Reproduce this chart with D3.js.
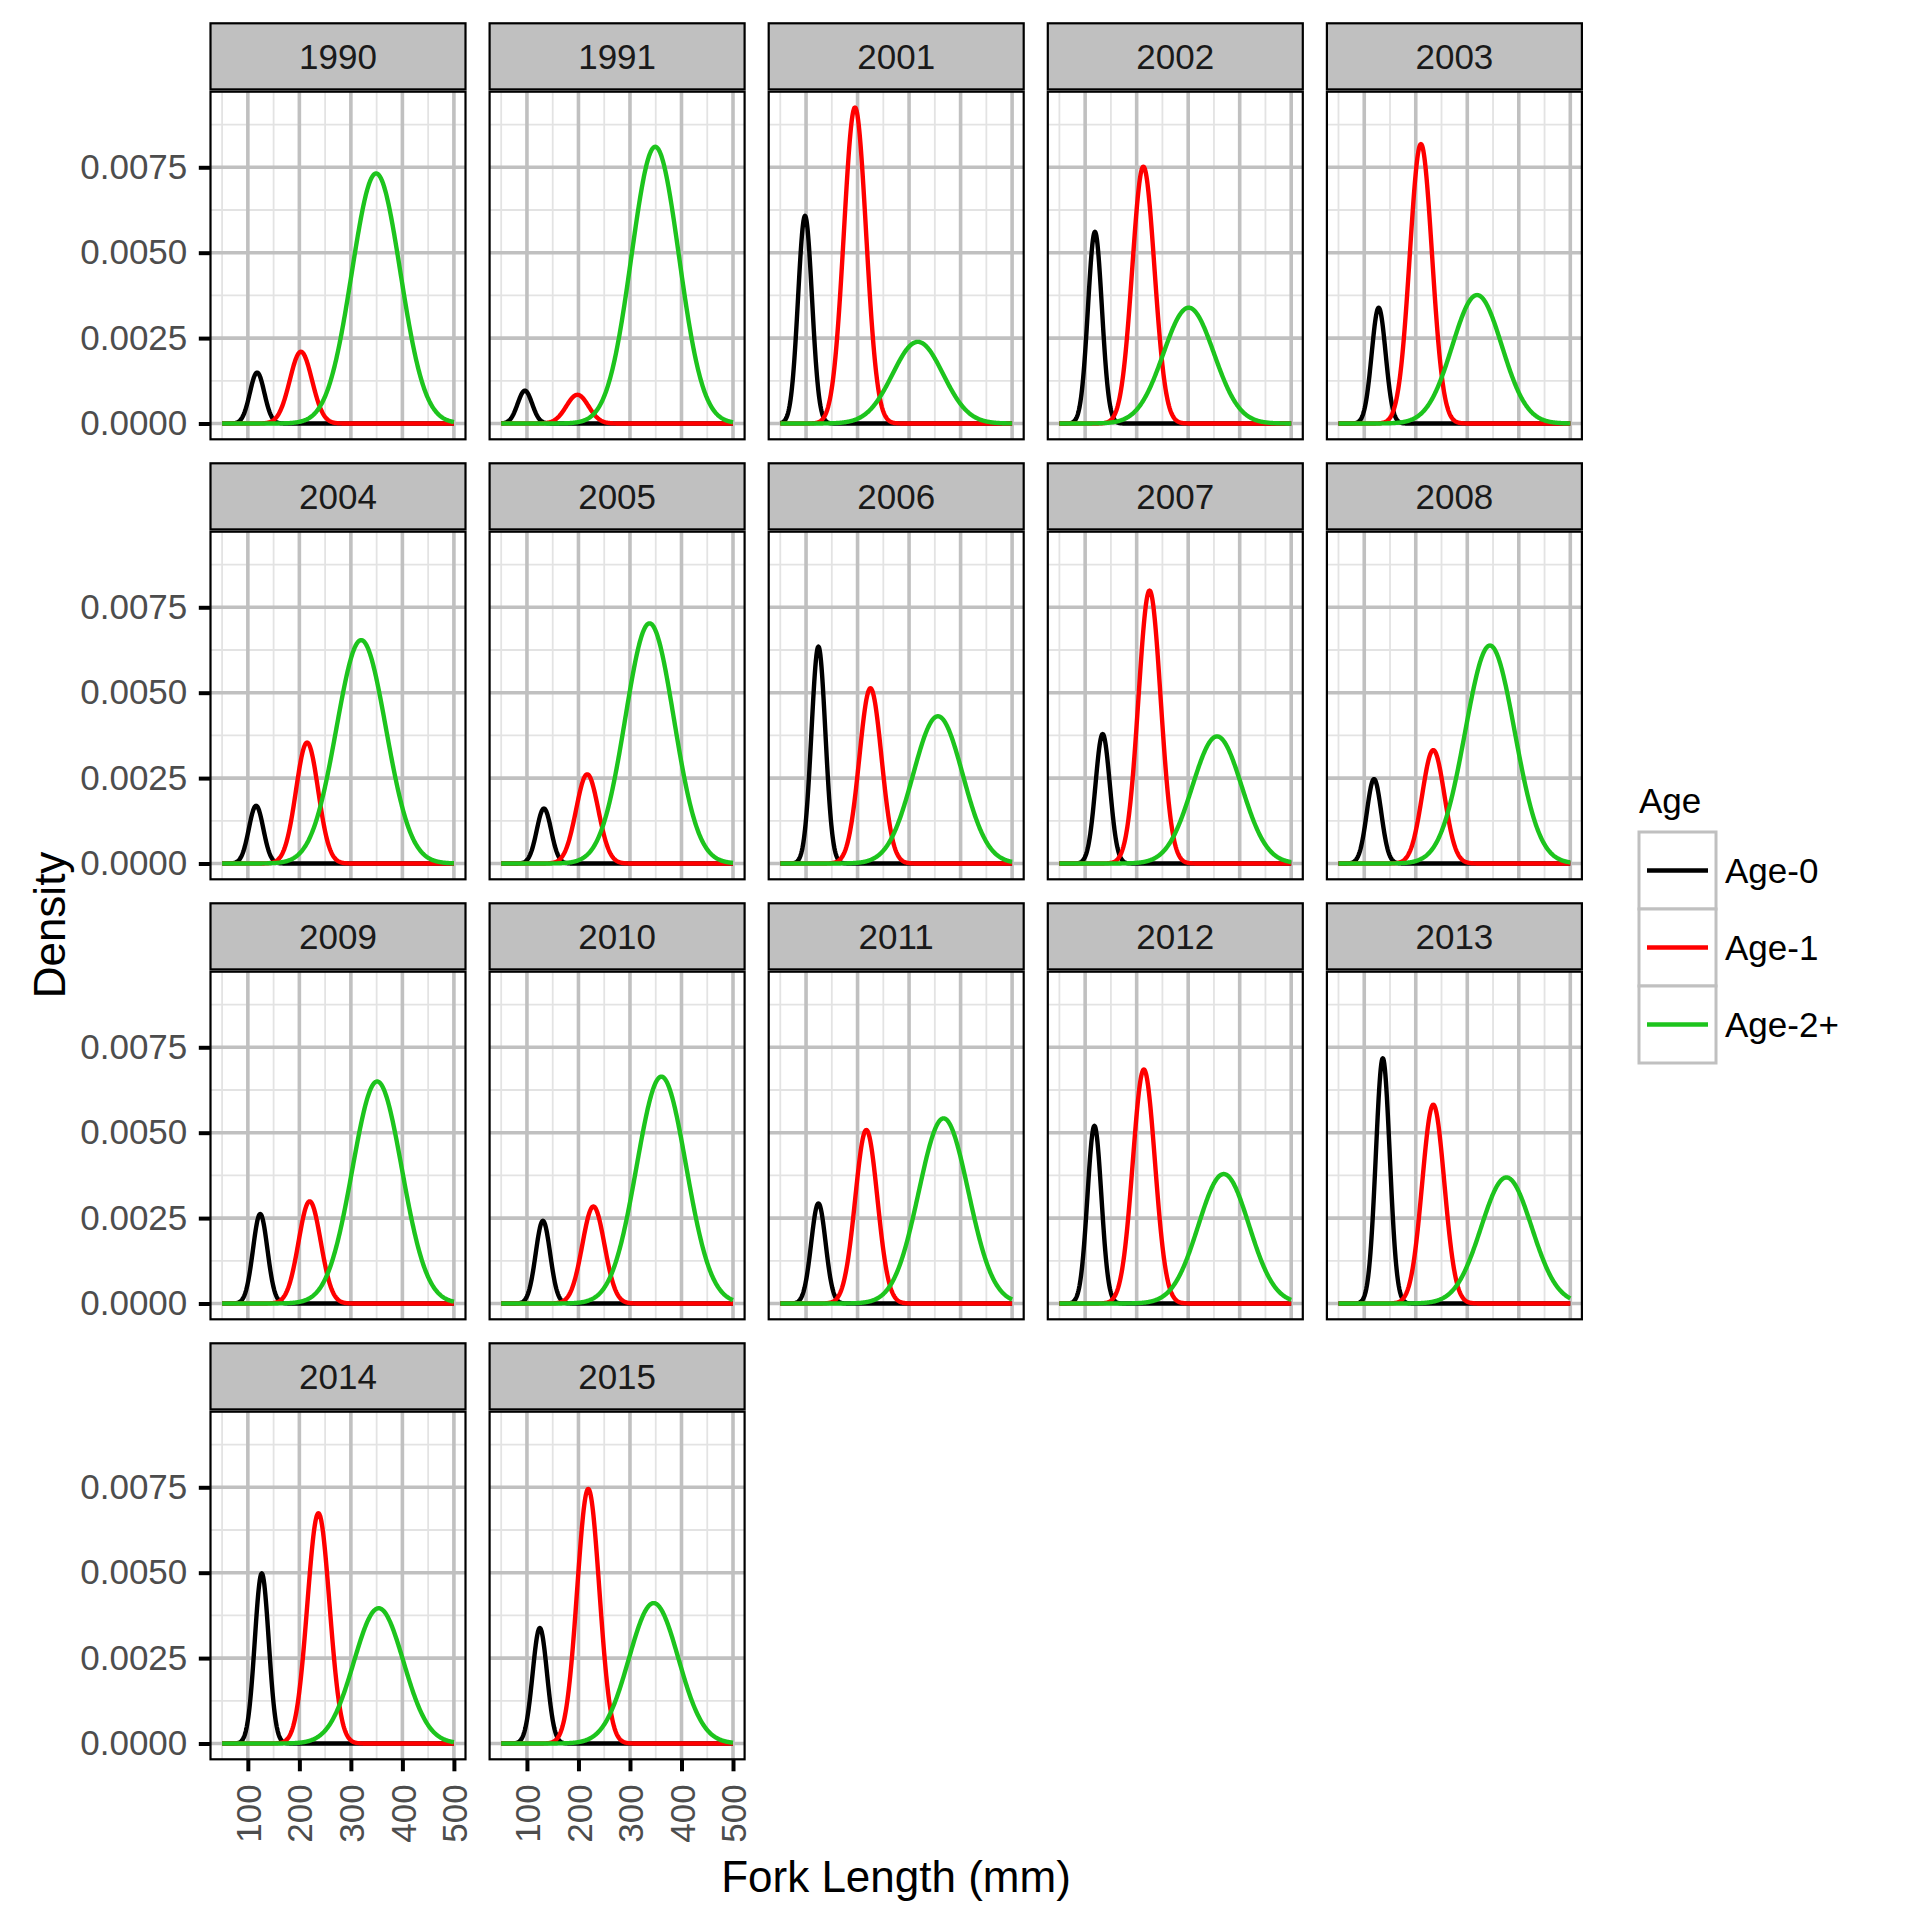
<!DOCTYPE html>
<html><head><meta charset="utf-8">
<script src="https://cdn.jsdelivr.net/npm/d3@7"></script>
<style>body{margin:0;background:#fff}</style>
</head><body>
<svg id="chart" width="1920" height="1920"></svg>
<script>
// ---- data ----
const years = ["1990","1991","2001","2002","2003","2004","2005","2006","2007","2008","2009","2010","2011","2012","2013","2014","2015"];
const ages = ["Age-0","Age-1","Age-2+"];
const ageColors = ["#000000","#FF0000","#1DC41D"];
// component means (mm), standard deviations (mm), and peak densities per year
const age0Mean = [118, 96, 98, 119, 128, 116, 133, 124, 134, 119, 124, 131, 124, 118, 136, 127, 125];
const age0Sd   = [14, 14, 13.5, 13.5, 13.5, 14, 14, 13.5, 14, 14, 14, 14, 14, 13.5, 13.5, 13.5, 14];
const age0Peak = [0.00149, 0.00096, 0.00608, 0.00561, 0.00339, 0.00169, 0.00161, 0.00635, 0.00379, 0.00247, 0.00262, 0.00242, 0.00293, 0.00520, 0.00718, 0.00498, 0.00338];
const age1Mean = [203, 198, 195, 213, 210, 215, 217, 225, 225, 234, 220, 229, 217, 214, 234, 237, 219];
const age1Sd   = [21.5, 21.5, 21.5, 21.5, 21.5, 21.5, 21.5, 21.5, 21.5, 21.5, 21.5, 21.5, 21.5, 21.5, 21.5, 21.5, 21.5];
const age1Peak = [0.00210, 0.00084, 0.00925, 0.00752, 0.00818, 0.00354, 0.00261, 0.00513, 0.00799, 0.00332, 0.00299, 0.00284, 0.00508, 0.00685, 0.00582, 0.00674, 0.00745];
const age2Mean = [349, 349, 317, 301, 319, 320, 338, 356, 356, 344, 351, 361, 367, 369, 376, 354, 346];
const age2Sd   = [47, 46, 49, 49, 48, 48, 47, 48, 48, 48, 48, 48, 48, 49, 49, 48, 48];
const age2Peak = [0.00732, 0.00810, 0.00239, 0.00339, 0.00376, 0.00654, 0.00703, 0.00431, 0.00372, 0.00638, 0.00650, 0.00664, 0.00542, 0.00379, 0.00369, 0.00396, 0.00411];
const xTicks = [100, 200, 300, 400, 500];
const xMinor = [50, 150, 250, 350, 450];
const yTicks = [0, 0.0025, 0.005, 0.0075];
const yMinor = [0.00125, 0.00375, 0.00625, 0.00875];
const xRange = [50, 500];

// ---- layout ----
const font = "'Liberation Sans', Arial, Helvetica, sans-serif";
const nCol = 5, colX0 = 210.5, colPitch = 279.1, panelW = 255;
const rowY0 = 23.3, rowPitch = 440, stripH = 68.4, panelH = 347.6;

const params = [
  {mean: age0Mean, sd: age0Sd, peak: age0Peak},
  {mean: age1Mean, sd: age1Sd, peak: age1Peak},
  {mean: age2Mean, sd: age2Sd, peak: age2Peak}
];
const grid = d3.range(xRange[0], xRange[1] + 0.5, 1);
function curve(p, i) {
  return grid.map(x => ({x, y: p.peak[i] * Math.exp(-0.5 * Math.pow((x - p.mean[i]) / p.sd[i], 2))}));
}
const curves = years.map((yr, i) => params.map(p => curve(p, i)));
const maxY = d3.max(curves.flat(2), d => d.y);

const xSpan = xRange[1] - xRange[0];
const x = d3.scaleLinear().domain([xRange[0] - 0.05 * xSpan, xRange[1] + 0.05 * xSpan]).range([0, panelW]);
const y = d3.scaleLinear().domain([-0.05 * maxY, 1.05 * maxY]).range([panelH, 0]);
const line = d3.line().x(d => x(d.x)).y(d => y(d.y));

const svg = d3.select("#chart");
svg.append("rect").attr("width", 1920).attr("height", 1920).attr("fill", "#fff");

years.forEach((yr, i) => {
  const col = i % nCol, row = Math.floor(i / nCol);
  const g = svg.append("g").attr("transform", `translate(${colX0 + col * colPitch},${rowY0 + row * rowPitch + stripH})`);
  g.append("rect").attr("width", panelW).attr("height", panelH).attr("fill", "#fff");
  // minor grid
  g.selectAll(".mx").data(xMinor).join("line")
    .attr("x1", d => x(d)).attr("x2", d => x(d)).attr("y1", 0).attr("y2", panelH)
    .attr("stroke", "#E3E3E3").attr("stroke-width", 1.8);
  g.selectAll(".my").data(yMinor).join("line")
    .attr("x1", 0).attr("x2", panelW).attr("y1", d => y(d)).attr("y2", d => y(d))
    .attr("stroke", "#E3E3E3").attr("stroke-width", 1.8);
  // major grid
  g.selectAll(".Mx").data(xTicks).join("line")
    .attr("x1", d => x(d)).attr("x2", d => x(d)).attr("y1", 0).attr("y2", panelH)
    .attr("stroke", "#C0C0C0").attr("stroke-width", 3.6);
  g.selectAll(".My").data(yTicks).join("line")
    .attr("x1", 0).attr("x2", panelW).attr("y1", d => y(d)).attr("y2", d => y(d))
    .attr("stroke", "#C0C0C0").attr("stroke-width", 3.6);
  // curves
  curves[i].forEach((c, k) => {
    g.append("path").attr("d", line(c)).attr("fill", "none")
      .attr("stroke", ageColors[k]).attr("stroke-width", 4.4).attr("stroke-linejoin", "round");
  });
  // border
  g.append("rect").attr("width", panelW).attr("height", panelH)
    .attr("fill", "none").attr("stroke", "#000").attr("stroke-width", 2.2);
  // strip
  g.append("rect").attr("x", 0).attr("y", -stripH).attr("width", panelW).attr("height", stripH - 2.3)
    .attr("fill", "#C0C0C0").attr("stroke", "#000").attr("stroke-width", 2.2);
  g.append("text").attr("x", panelW / 2).attr("y", -stripH / 2 - 1).attr("dy", "0.36em")
    .attr("text-anchor", "middle").attr("font-family", font).attr("font-size", 35)
    .attr("fill", "#1A1A1A").text(yr);

  // y axis on left column
  if (col === 0) {
    const ax = g.append("g").call(d3.axisLeft(y).tickValues(yTicks).tickFormat(d3.format(".4f")).tickSize(11.7).tickPadding(11.5));
    ax.select(".domain").remove();
    ax.selectAll(".tick line").attr("stroke", "#000").attr("stroke-width", 4);
    ax.selectAll(".tick text").attr("font-family", font).attr("font-size", 35).attr("fill", "#4D4D4D");
  }
  // x axis on bottom row
  if (row === 3) {
    const ax = g.append("g").attr("transform", `translate(0,${panelH})`)
      .call(d3.axisBottom(x).tickValues(xTicks).tickFormat(d3.format("d")).tickSize(12));
    ax.select(".domain").remove();
    ax.selectAll(".tick line").attr("stroke", "#000").attr("stroke-width", 4);
    ax.selectAll(".tick text").attr("font-family", font).attr("font-size", 35).attr("fill", "#4D4D4D")
      .attr("transform", "rotate(-90)").attr("text-anchor", "end")
      .attr("x", -25).attr("y", 0).attr("dy", "0.36em");
  }
});

// axis titles
svg.append("text").attr("transform", "translate(49,925) rotate(-90)").attr("dy", "0.36em")
  .attr("text-anchor", "middle").attr("font-family", font).attr("font-size", 44).attr("fill", "#000").text("Density");
svg.append("text").attr("x", 896).attr("y", 1876).attr("dy", "0.36em")
  .attr("text-anchor", "middle").attr("font-family", font).attr("font-size", 44).attr("fill", "#000").text("Fork Length (mm)");

// legend
const lg = svg.append("g").attr("transform", "translate(1639,832)");
lg.append("text").attr("x", 0).attr("y", -19).attr("font-family", font).attr("font-size", 35).attr("fill", "#000").text("Age");
const keyH = 77, keyW = 77;
ages.forEach((a, k) => {
  lg.append("rect").attr("x", 0).attr("y", k * keyH).attr("width", keyW).attr("height", keyH)
    .attr("fill", "#fff").attr("stroke", "#C0C0C0").attr("stroke-width", 3);
  lg.append("line").attr("x1", 8).attr("x2", 69).attr("y1", k * keyH + keyH / 2).attr("y2", k * keyH + keyH / 2)
    .attr("stroke", ageColors[k]).attr("stroke-width", 4.4);
  lg.append("text").attr("x", 86).attr("y", k * keyH + keyH / 2).attr("dy", "0.36em")
    .attr("font-family", font).attr("font-size", 35).attr("fill", "#000").text(a);
});
</script>
</body></html>
